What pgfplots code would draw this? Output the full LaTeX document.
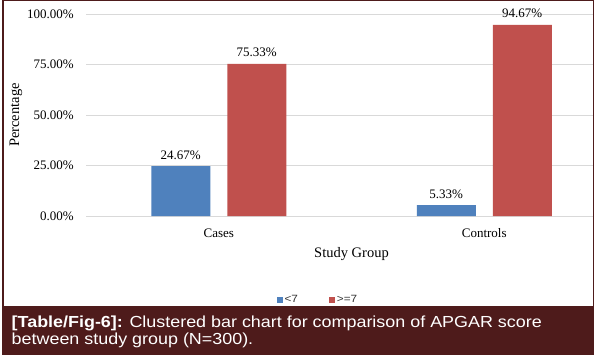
\documentclass[border=0pt]{standalone}
\usepackage{pgfplots}
\pgfplotsset{compat=1.18}
\usepackage{fontspec}
\setmainfont{Liberation Serif}
\newfontfamily\capfont[FakeStretch=1.12]{Liberation Sans}
\definecolor{barblue}{RGB}{79,129,189}
\definecolor{barred}{RGB}{192,80,77}
\definecolor{framec}{RGB}{78,27,27}
\definecolor{gridc}{RGB}{217,217,217}
\begin{document}
\begin{tikzpicture}[x=1bp,y=1bp]
\useasboundingbox (0,0) rectangle (598,362);
\fill[white] (0,0) rectangle (598,362);
\begin{scope}
\clip (2,0) rectangle (593,362);
\begin{axis}[
 at={(86bp,146bp)}, anchor=south west,
 scale only axis, width=531bp, height=202bp,
 xmin=-0.5, xmax=1.5, ymin=0, ymax=100,
 /pgf/number format/assume math mode=true,
 axis line style={draw=none},
 major tick length=0pt,
 ytick={0,25,50,75,100},
 yticklabels={0.00\%,25.00\%,50.00\%,75.00\%,100.00\%},
 xtick={0,1}, xticklabels={Cases,Controls},
 ymajorgrids, grid style={draw=gridc, line width=0.9bp},
 ybar=17bp, bar width=59bp,
 tick label style={font=\fontsize{13bp}{15bp}\selectfont},
 yticklabel style={anchor=east, inner sep=0pt, xshift=-12bp},
 xticklabel style={anchor=base, inner sep=0pt, yshift=-21bp},
 xlabel={Study Group}, ylabel={Percentage},
 every axis x label/.style={at={(axis description cs:0.5,-0.203)}, anchor=base, font=\fontsize{14.5bp}{16bp}\selectfont},
 every axis y label/.style={at={(axis description cs:-0.126,0.5)}, rotate=90, anchor=base, font=\fontsize{14.5bp}{16bp}\selectfont},
 nodes near coords={\pgfmathprintnumber[fixed,fixed zerofill,precision=2]{\pgfplotspointmeta}\%},
 nodes near coords style={font=\fontsize{13bp}{15bp}\selectfont, anchor=base, yshift=7bp},
 clip=false,
 legend columns=2,
 legend image code/.code={\fill[#1] (0bp,-3bp) rectangle (6bp,3bp);},
 legend style={at={(axis description cs:0.3597,-0.416)}, anchor=west, draw=none, fill=none,
   inner sep=0pt, outer sep=0pt, font=\capfont\fontsize{10.5bp}{12bp}\selectfont, text=black!80,
   nodes={inner sep=1.5bp},
   /tikz/every even column/.append style={column sep=30bp}},
]
\addplot[fill=barblue, draw=none] coordinates {(0,24.67) (1,5.33)};
\addplot[fill=barred, draw=none] coordinates {(0,75.33) (1,94.67)};
\legend{<7,>=7}
\end{axis}
\end{scope}
\fill[framec] (2,7) rectangle (594,56);
\draw[framec, line width=1.5bp] (2.75,56) -- (2.75,361.25) -- (593.25,361.25) -- (593.25,56);
\node[anchor=base west, text=white, inner sep=0pt, font=\capfont\fontsize{16bp}{19bp}\selectfont] at (11.5,34.7) {\textbf{[Table/Fig-6]:} Clustered bar chart for comparison of APGAR score};
\node[anchor=base west, text=white, inner sep=0pt, font=\capfont\fontsize{16bp}{19bp}\selectfont] at (11.5,18) {between study group (N=300).};
\end{tikzpicture}
\end{document}
